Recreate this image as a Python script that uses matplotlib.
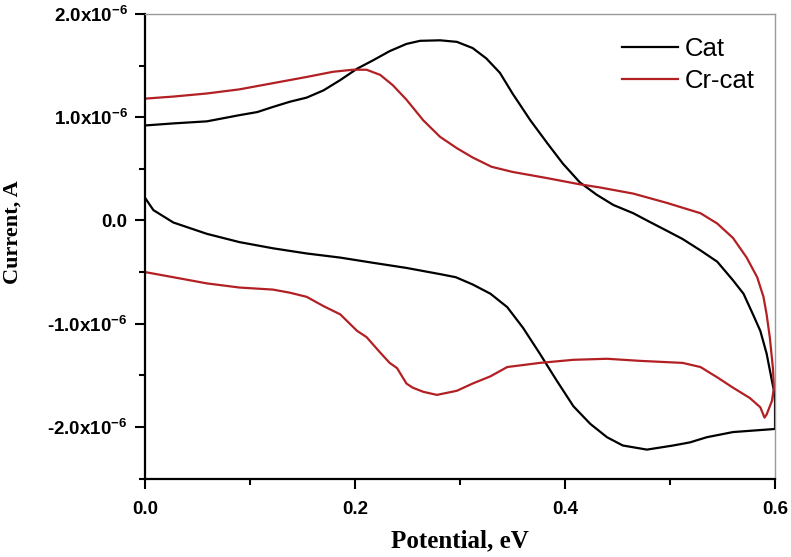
import matplotlib
matplotlib.use("Agg")
import matplotlib.pyplot as plt
from matplotlib.ticker import MultipleLocator, FuncFormatter

plt.rcParams["mathtext.fontset"] = "custom"
plt.rcParams["mathtext.rm"] = "Liberation Sans:bold"
plt.rcParams["mathtext.it"] = "Liberation Sans:bold"
plt.rcParams["mathtext.bf"] = "Liberation Sans:bold"

# Cat: anodic sweep (0 -> 0.6 V), then cathodic sweep back (current in 1e-6 A)
cat_fwd_x = [0.0, 0.027, 0.059, 0.09, 0.107, 0.122, 0.138, 0.154, 0.17, 0.186,
             0.202, 0.217, 0.233, 0.249, 0.262, 0.281, 0.297, 0.312, 0.325, 0.338,
             0.35, 0.367, 0.383, 0.398, 0.414, 0.43, 0.446, 0.465, 0.478, 0.497,
             0.512, 0.529, 0.545, 0.56, 0.57, 0.579, 0.586, 0.592, 0.597, 0.599, 0.6, 0.6]
cat_fwd_y = [0.92, 0.94, 0.96, 1.02, 1.05, 1.10, 1.15, 1.19, 1.26, 1.36,
             1.47, 1.55, 1.64, 1.71, 1.74, 1.745, 1.73, 1.67, 1.57, 1.43,
             1.23, 0.97, 0.75, 0.55, 0.37, 0.25, 0.15, 0.07, 0.0, -0.10,
             -0.18, -0.29, -0.40, -0.58, -0.71, -0.91, -1.07, -1.29, -1.55, -1.65, -1.75, -2.02]
cat_rev_x = [0.6, 0.56, 0.535, 0.519, 0.503, 0.478, 0.455, 0.44, 0.424, 0.408,
             0.392, 0.376, 0.36, 0.345, 0.329, 0.312, 0.296, 0.281, 0.249, 0.217,
             0.186, 0.154, 0.122, 0.09, 0.059, 0.027, 0.008, 0.0]
cat_rev_y = [-2.02, -2.05, -2.10, -2.15, -2.18, -2.22, -2.18, -2.10, -1.97, -1.80,
             -1.55, -1.29, -1.04, -0.84, -0.71, -0.62, -0.55, -0.52, -0.46, -0.41,
             -0.36, -0.32, -0.27, -0.21, -0.13, -0.02, 0.10, 0.22]

# Cr-cat
cr_fwd_x = [0.0, 0.027, 0.059, 0.09, 0.122, 0.154, 0.179, 0.198, 0.211, 0.224,
            0.236, 0.249, 0.265, 0.281, 0.297, 0.312, 0.33, 0.35, 0.383, 0.414,
            0.433, 0.465, 0.497, 0.529, 0.545, 0.56, 0.573, 0.583, 0.589, 0.592,
            0.595, 0.598, 0.599, 0.597, 0.592, 0.59]
cr_fwd_y = [1.18, 1.20, 1.23, 1.27, 1.33, 1.39, 1.44, 1.46, 1.46, 1.41,
            1.31, 1.17, 0.97, 0.81, 0.70, 0.61, 0.52, 0.47, 0.41, 0.35,
            0.32, 0.26, 0.17, 0.07, -0.03, -0.17, -0.36, -0.55, -0.74, -0.91,
            -1.13, -1.43, -1.62, -1.75, -1.88, -1.91]
cr_rev_x = [0.59, 0.586, 0.576, 0.56, 0.545, 0.529, 0.512, 0.471, 0.44, 0.408,
            0.376, 0.345, 0.329, 0.312, 0.297, 0.278, 0.265, 0.255, 0.249, 0.24,
            0.233, 0.224, 0.211, 0.202, 0.186, 0.17, 0.154, 0.138, 0.122, 0.09,
            0.059, 0.027, 0.0]
cr_rev_y = [-1.91, -1.81, -1.72, -1.62, -1.52, -1.42, -1.38, -1.36, -1.34, -1.35,
            -1.38, -1.42, -1.51, -1.58, -1.65, -1.69, -1.66, -1.62, -1.58, -1.43,
            -1.38, -1.28, -1.13, -1.07, -0.91, -0.83, -0.74, -0.70, -0.67, -0.65,
            -0.61, -0.55, -0.50]

cat_x = cat_fwd_x + cat_rev_x
cat_y = [v * 1e-6 for v in cat_fwd_y + cat_rev_y]
cr_x = cr_fwd_x + cr_rev_x
cr_y = [v * 1e-6 for v in cr_fwd_y + cr_rev_y]

fig = plt.figure(figsize=(7.91, 5.57), dpi=100)
ax = fig.add_axes([0.1833, 0.1409, 0.7965, 0.834])

ax.plot(cat_x, cat_y, color="black", lw=1.6, label="Cat")
ax.plot(cr_x, cr_y, color="#B22024", lw=1.6, label="Cr-cat")

ax.set_xlim(0, 0.6)
ax.set_ylim(-2.5e-6, 2.0e-6)

ax.xaxis.set_major_locator(MultipleLocator(0.2))
ax.xaxis.set_minor_locator(MultipleLocator(0.1))
ax.yaxis.set_major_locator(MultipleLocator(1e-6))
ax.yaxis.set_minor_locator(MultipleLocator(0.5e-6))


def yfmt(v, pos):
    if abs(v) < 1e-12:
        return "0.0"
    return "%.1fx10$^{-6}$" % (v * 1e6)


ax.yaxis.set_major_formatter(FuncFormatter(yfmt))
ax.xaxis.set_major_formatter(FuncFormatter(lambda v, p: "%.1f" % v))

ax.tick_params(which="both", direction="out", top=False, right=False, width=1.5)
ax.tick_params(which="major", length=7.5)
ax.tick_params(which="minor", length=4)
ax.tick_params(axis="y", which="major", pad=5)
ax.tick_params(axis="x", which="major", pad=9)
for lab in ax.get_xticklabels() + ax.get_yticklabels():
    lab.set_fontfamily("Liberation Sans")
    lab.set_fontweight("bold")
    lab.set_fontsize(13.5)

for side in ["left", "bottom"]:
    ax.spines[side].set_linewidth(1.6)
    ax.spines[side].set_color("black")
for side in ["top", "right"]:
    ax.spines[side].set_linewidth(1.0)
    ax.spines[side].set_color("#999999")

ax.set_xlabel("Potential, eV", fontfamily="Liberation Serif", fontweight="bold",
              fontsize=18, labelpad=8)
ax.set_ylabel("Current, A", fontfamily="Liberation Serif", fontweight="bold",
              fontsize=16)
ax.yaxis.set_label_coords(-0.194, 0.53)

ax.legend(loc="upper right", frameon=False, prop={"family": "Liberation Sans", "size": 18.5},
          handlelength=2.2, handletextpad=0.27, labelspacing=0.3,
          borderpad=0, borderaxespad=0, bbox_to_anchor=(0.968, 0.95))

fig.savefig("out.png", dpi=100)
